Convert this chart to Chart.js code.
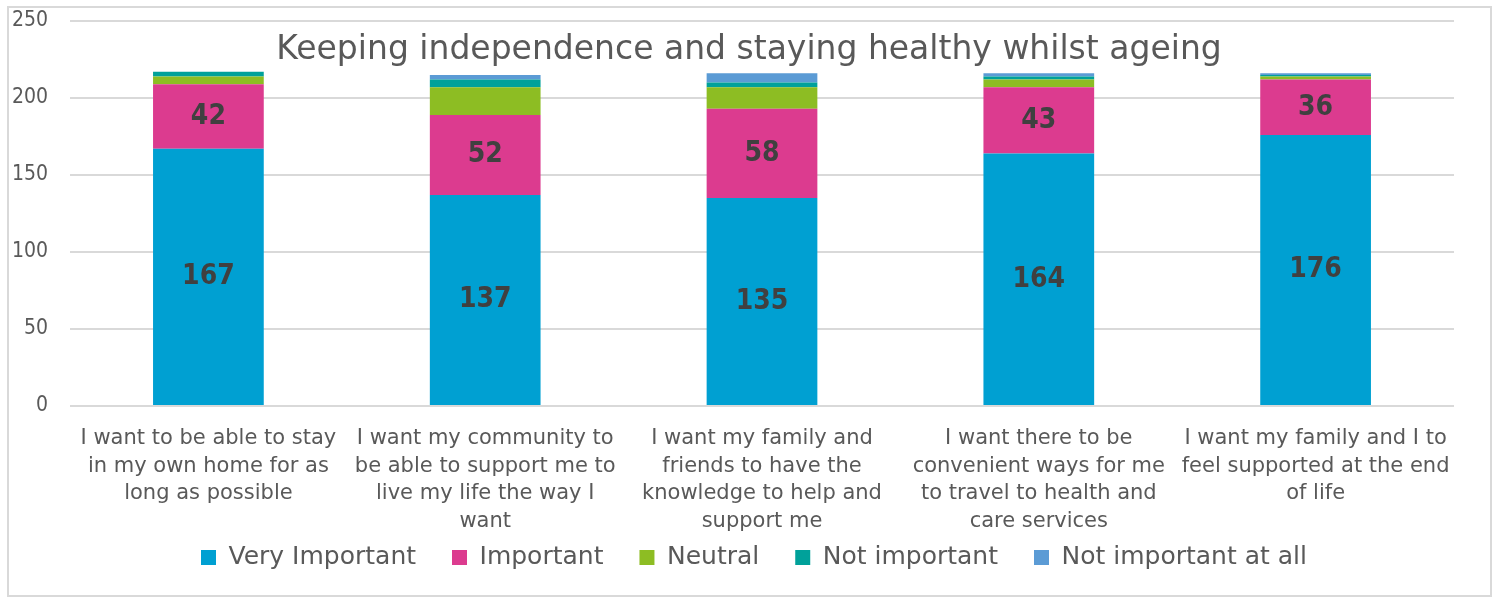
<!DOCTYPE html>
<html>
<head>
<meta charset="utf-8">
<script src="https://cdn.jsdelivr.net/npm/chart.js@4.4.1/dist/chart.umd.min.js"></script>
<style>
html,body{margin:0;padding:0;background:#fff;}
#wrap{position:absolute;left:0;top:0;width:1498px;height:597px;}
</style>
</head>
<body>
<div id="wrap"><canvas id="c" width="1498" height="597"></canvas></div>
<script>
const categories = [
  ["I want to be able to stay", "in my own home for as", "long as possible"],
  ["I want my community to", "be able to support me to", "live my life the way I", "want"],
  ["I want my family and", "friends to have the", "knowledge to help and", "support me"],
  ["I want there to be", "convenient ways for me", "to travel to health and", "care services"],
  ["I want my family and I to", "feel supported at the end", "of life"]
];
const veryImportant = [167, 137, 135, 164, 176];
const important = [42, 52, 58, 43, 36];
const neutral = [5, 18, 14, 5, 2];
const notImportant = [3, 5, 3, 2, 1];
const notImportantAtAll = [0, 3, 6, 2, 1];
const seriesNames = ["Very Important", "Important", "Neutral", "Not important", "Not important at all"];
const yTicks = [0, 50, 100, 150, 200, 250];
const titleText = "Keeping independence and staying healthy whilst ageing";

const FONT = "'DejaVu Sans', sans-serif";
const FONTC = "'DejaVu Sans Condensed', 'DejaVu Sans', sans-serif";
const colors = ["#00A0D2", "#DC3B8F", "#8DBD23", "#00A19A", "#5B9BD5"];
const values = [veryImportant, important, neutral, notImportant, notImportantAtAll];

const datasets = seriesNames.map((n, i) => ({
  label: n,
  data: values[i],
  backgroundColor: colors[i],
  borderWidth: 0,
  barPercentage: 0.4,
  categoryPercentage: 1.0,
  showLabel: i < 2
}));

const decor = {
  id: 'decor',
  beforeDraw(chart) {
    const ctx = chart.ctx;
    ctx.save();
    ctx.fillStyle = '#fff';
    ctx.fillRect(0, 0, chart.width, chart.height);
    ctx.strokeStyle = '#d9d9d9';
    ctx.lineWidth = 2;
    ctx.strokeRect(8, 7, 1483, 589);
    ctx.restore();
  },
  afterDatasetsDraw(chart) {
    const ctx = chart.ctx;
    ctx.save();
    ctx.font = "bold 28px " + FONTC;
    ctx.fillStyle = '#404040';
    ctx.textAlign = 'center';
    ctx.textBaseline = 'middle';
    chart.data.datasets.forEach((ds, di) => {
      if (!ds.showLabel) return;
      const meta = chart.getDatasetMeta(di);
      meta.data.forEach((bar, i) => {
        const p = bar.getProps(['x', 'y', 'base'], true);
        ctx.fillText(String(ds.data[i]), p.x, (p.y + p.base) / 2);
      });
    });
    ctx.font = "33px " + FONT;
    ctx.fillStyle = '#595959';
    ctx.fillText(titleText, 749, 50);
    ctx.restore();
  }
};

new Chart(document.getElementById('c'), {
  type: 'bar',
  data: { labels: categories, datasets },
  plugins: [decor],
  options: {
    responsive: false,
    animation: false,
    devicePixelRatio: 1,
    layout: { padding: { left: 54, right: 44, top: 21, bottom: 17 } },
    plugins: {
      title: { display: false },
      tooltip: { enabled: false },
      legend: {
        position: 'bottom',
        labels: {
          font: { family: FONT, size: 25 },
          color: '#595959',
          boxWidth: 15,
          boxHeight: 15,
          padding: 36,
          useBorderRadius: false
        }
      }
    },
    scales: {
      x: {
        stacked: true,
        grid: { display: false, drawTicks: false },
        border: { display: false },
        ticks: {
          font: { family: FONT, size: 21, lineHeight: 1.31 },
          color: '#595959',
          padding: 19,
          maxRotation: 0,
          autoSkip: false
        },
        afterFit(s) { s.height = 103; s.paddingLeft = 0; s.paddingRight = 0; s._computeLabelArea = function () { return undefined; }; }
      },
      y: {
        stacked: true,
        min: 0,
        max: 250,
        afterBuildTicks(s) { s.ticks = yTicks.map(v => ({ value: v })); },
        grid: { color: '#d9d9d9', lineWidth: 2, drawTicks: false },
        border: { display: false },
        ticks: {
          font: { family: FONTC, size: 21 },
          color: '#595959',
          padding: 22
        },
        afterFit(s) { s.width = 16; s.paddingTop = 0; s.paddingBottom = 0; s._computeLabelArea = function () { return undefined; }; }
      }
    }
  }
});
</script>
</body>
</html>
